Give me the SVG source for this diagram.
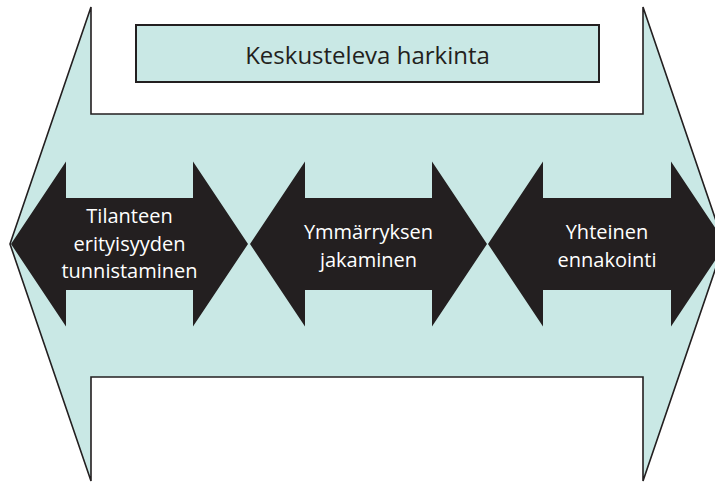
<svg xmlns="http://www.w3.org/2000/svg" width="715" height="482" viewBox="0 0 715 482">
  <style>
    .band { fill: #c9e8e5; stroke: #231f20; stroke-width: 1.6; stroke-linejoin: miter; }
    .box { fill: #c9e8e5; stroke: #231f20; stroke-width: 2; }
    .arrow { fill: #231f20; }
    .label { font-family: "Open Sans", "Noto Sans", sans-serif; font-size: 20px; fill: #ffffff; text-anchor: middle; }
    .title { font-family: "Open Sans", "Noto Sans", sans-serif; font-size: 24px; fill: #231f20; text-anchor: middle; }
  </style>
  <rect width="715" height="482" fill="#ffffff"/>

  <!-- wide double-headed background band with notches top and bottom -->
  <g id="band">
    <polygon class="band" points="91,7 91,114 643,114 643,7 724,244 643,481 643,377 91,377 91,481 10,244"/>
  </g>

  <g id="title">
    <rect class="box" x="136" y="25" width="463" height="57"/>
    <text class="title" x="367.5" y="64">Keskusteleva harkinta</text>
  </g>

  <!-- three black double arrows -->
  <g id="step1">
    <polygon class="arrow" points="11,244 66,161.5 66,198 193,198 193,161.5 248,244 193,326.5 193,290 66,290 66,326.5"/>
    <text class="label" x="129.5" y="223">Tilanteen</text>
    <text class="label" x="129.5" y="250.5">erityisyyden</text>
    <text class="label" x="129.5" y="278">tunnistaminen</text>
  </g>

  <g id="step2">
    <polygon class="arrow" points="250,244 305,161.5 305,198 432,198 432,161.5 487,244 432,326.5 432,290 305,290 305,326.5"/>
    <text class="label" x="368.5" y="239">Ymmärryksen</text>
    <text class="label" x="368.5" y="267">jakaminen</text>
  </g>

  <g id="step3">
    <polygon class="arrow" points="488,244 543,161.5 543,198 671,198 671,161.5 726,244 671,326.5 671,290 543,290 543,326.5"/>
    <text class="label" x="607" y="239">Yhteinen</text>
    <text class="label" x="607" y="267">ennakointi</text>
  </g>
</svg>
